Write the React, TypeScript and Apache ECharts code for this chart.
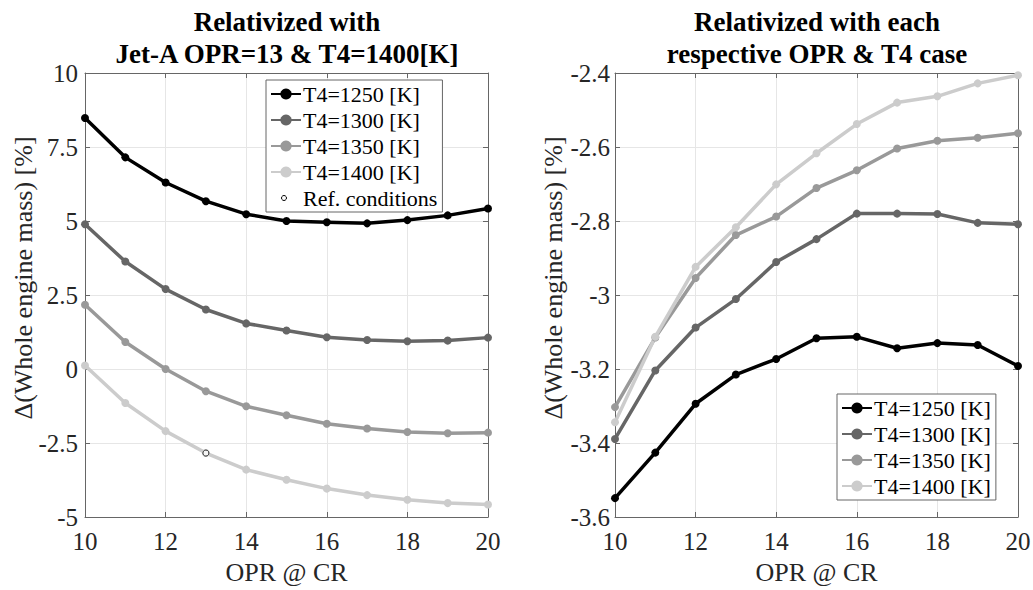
import React, { useEffect, useRef } from "react";
import * as echarts from "echarts";

const OPR = [10, 11, 12, 13, 14, 15, 16, 17, 18, 19, 20];
const SERIES_NAMES = ["T4=1250 [K]", "T4=1300 [K]", "T4=1350 [K]", "T4=1400 [K]"];
const REF_NAME = "Ref. conditions";

// Left panel: relativized with Jet-A OPR=13 & T4=1400 K
const left1250 = [8.48, 7.15, 6.3, 5.67, 5.23, 5.0, 4.96, 4.92, 5.03, 5.19, 5.42];
const left1300 = [4.89, 3.63, 2.7, 2.01, 1.54, 1.3, 1.07, 0.98, 0.94, 0.96, 1.06];
const left1350 = [2.17, 0.91, 0.0, -0.75, -1.26, -1.56, -1.85, -2.01, -2.13, -2.17, -2.15];
const left1400 = [0.12, -1.15, -2.1, -2.84, -3.4, -3.74, -4.04, -4.26, -4.42, -4.53, -4.58];
const refPoint = [13, -2.84];

// Right panel: relativized with each respective case
const right1250 = [-3.549, -3.426, -3.294, -3.215, -3.173, -3.117, -3.113, -3.144, -3.13, -3.135, -3.192];
const right1300 = [-3.389, -3.204, -3.088, -3.011, -2.911, -2.849, -2.78, -2.78, -2.781, -2.805, -2.809];
const right1350 = [-3.303, -3.115, -2.954, -2.838, -2.788, -2.711, -2.663, -2.604, -2.583, -2.575, -2.563];
const right1400 = [-3.344, -3.113, -2.924, -2.817, -2.701, -2.617, -2.538, -2.48, -2.463, -2.428, -2.406];

// Tick labels
const xTickLabels = [10, 12, 14, 16, 18, 20];
const leftYTickLabels = [-5, -2.5, 0, 2.5, 5, 7.5, 10];
const rightYTickLabels = [-3.6, -3.4, -3.2, -3, -2.8, -2.6, -2.4];

const COLORS = ["#000000", "#666666", "#999999", "#cccccc"];
const FONT = "Liberation Serif";
const Y_NAME = "Δ(Whole engine mass) [%]";

const leftYTicks = { min: -5, max: 10, interval: 2.5 };
const rightYTicks = { min: -3.6, max: -2.4, interval: 0.2 };
const xTicks = { min: 10, max: 20, interval: 2 };

export default function App() {
  const ref = useRef<HTMLDivElement>(null);

  useEffect(() => {
    if (!ref.current) return;
    const chart = echarts.init(ref.current, null, { renderer: "svg" });

    const grids = [
      { left: 85, top: 73, width: 403, height: 448 },
      { left: 615, top: 73, width: 403, height: 448 },
    ];

    const axisLineStyle = { color: "#666666", width: 1 };

    const xAxes: any[] = [];
    const yAxes: any[] = [];
    [0, 1].forEach((g) => {
      xAxes.push({
        type: "value",
        gridIndex: g,
        position: "bottom",
        ...xTicks,
        name: "OPR @ CR",
        nameLocation: "middle",
        nameGap: 42,
        nameTextStyle: { fontFamily: FONT, fontSize: 26, color: "#262626" },
        axisLine: { show: true, onZero: false, lineStyle: axisLineStyle },
        axisTick: { show: true, inside: true, length: 5, lineStyle: axisLineStyle },
        axisLabel: { show: false },
        splitLine: { show: true, lineStyle: { color: "#e6e6e6", width: 1 } },
      });
      xAxes.push({
        type: "value",
        gridIndex: g,
        position: "top",
        ...xTicks,
        axisLine: { show: true, onZero: false, lineStyle: axisLineStyle },
        axisTick: { show: true, inside: true, length: 5, lineStyle: axisLineStyle },
        axisLabel: { show: false },
        splitLine: { show: false },
      });
      const yt = g === 0 ? leftYTicks : rightYTicks;
      yAxes.push({
        type: "value",
        gridIndex: g,
        position: "left",
        ...yt,
        axisLine: { show: true, onZero: false, lineStyle: axisLineStyle },
        axisTick: { show: true, inside: true, length: 5, lineStyle: axisLineStyle },
        axisLabel: { show: false },
        splitLine: { show: true, lineStyle: { color: "#e6e6e6", width: 1 } },
      });
      yAxes.push({
        type: "value",
        gridIndex: g,
        position: "right",
        ...yt,
        axisLine: { show: true, onZero: false, lineStyle: axisLineStyle },
        axisTick: { show: true, inside: true, length: 5, lineStyle: axisLineStyle },
        axisLabel: { show: false },
        splitLine: { show: false },
      });
    });

    const mk = (name: string, data: number[], color: string, xi: number, yi: number) => ({
      type: "line",
      name,
      xAxisIndex: xi,
      yAxisIndex: yi,
      data: OPR.map((x, i) => [x, data[i]]),
      symbol: "circle",
      symbolSize: 8,
      showSymbol: true,
      lineStyle: { color, width: 3.5 },
      itemStyle: { color },
      z: 3,
    });

    const leftData = [left1250, left1300, left1350, left1400];
    const rightData = [right1250, right1300, right1350, right1400];

    const series: any[] = [];
    leftData.forEach((d, i) => series.push(mk(SERIES_NAMES[i], d, COLORS[i], 0, 0)));
    series.push({
      type: "scatter",
      name: REF_NAME,
      xAxisIndex: 0,
      yAxisIndex: 0,
      data: [refPoint],
      symbol: "circle",
      symbolSize: 6,
      itemStyle: { color: "#ffffff", borderColor: "#000000", borderWidth: 1 },
      z: 5,
    });
    rightData.forEach((d, i) => series.push(mk(SERIES_NAMES[i], d, COLORS[i], 2, 2)));

    const legendBase = {
      orient: "vertical",
      backgroundColor: "#ffffff",
      borderColor: "#666666",
      borderWidth: 1,
      borderRadius: 0,
      padding: [3, 5, 3, 4],
      itemGap: 4,
      itemWidth: 30,
      itemHeight: 14,
      textStyle: { fontFamily: FONT, fontSize: 22, color: "#000000", lineHeight: 21, padding: [0, 0, 0, -3] },
      selectedMode: false,
    };

    chart.setOption({
      animation: false,
      backgroundColor: "#ffffff",
      textStyle: { fontFamily: FONT },
      grid: grids,
      xAxis: xAxes,
      yAxis: yAxes,
      series,
      legend: [
        {
          ...legendBase,
          left: 266,
          top: 80,
          data: [
            ...SERIES_NAMES,
            { name: REF_NAME, icon: "circle", itemStyle: { color: "rgba(0,0,0,0)", borderWidth: 0 } },
          ],
        },
        { ...legendBase, left: 837, top: 394, data: SERIES_NAMES },
      ],
    });

    const txt = (text: string, x: number, y: number, extra: any = {}, rotation = 0) => ({
      type: "text",
      x,
      y,
      rotation,
      silent: true,
      style: {
        text,
        fontFamily: FONT,
        fontSize: 25,
        fill: "#262626",
        textAlign: "center",
        textVerticalAlign: "middle",
        ...extra,
      },
    });

    const finders = [
      { xAxisIndex: 0, yAxisIndex: 0 },
      { xAxisIndex: 2, yAxisIndex: 2 },
    ];
    const yTickSets = [leftYTickLabels, rightYTickLabels];
    const yMins = [leftYTicks.min, rightYTicks.min];
    const labelGaps = [7, 5];
    const nameX = [23, 553];
    const titleX = [287, 817];
    const titles = [
      ["Relativized with", "Jet-A OPR=13 & T4=1400[K]"],
      ["Relativized with each", "respective OPR & T4 case"],
    ];

    const graphics: any[] = [];
    [0, 1].forEach((g) => {
      const f = finders[g];
      let bottomY = 0;
      let leftX = 0;
      let topY = 0;
      xTickLabels.forEach((v) => {
        const p = chart.convertToPixel(f as any, [v, yMins[g]]) as number[];
        bottomY = p[1];
        graphics.push(txt(String(v), p[0], p[1] + 24));
      });
      yTickSets[g].forEach((v) => {
        const p = chart.convertToPixel(f as any, [xTicks.min, v]) as number[];
        leftX = p[0];
        graphics.push(txt(String(v), p[0] - labelGaps[g], p[1], { textAlign: "right" }));
      });
      const top = chart.convertToPixel(f as any, [xTicks.min, yTickSets[g][yTickSets[g].length - 1]]) as number[];
      topY = top[1];
      graphics.push(txt(Y_NAME, nameX[g], (topY + bottomY) / 2 - 17, { fontSize: 26 }, Math.PI / 2));
      graphics.push(
        txt(titles[g][0], titleX[g], 22, { fontWeight: "bold", fontSize: 27, fill: "#000" }),
        txt(titles[g][1], titleX[g], 54, { fontWeight: "bold", fontSize: 27, fill: "#000" })
      );
      void leftX;
    });

    // small marker for the "Ref. conditions" legend entry
    graphics.push({
      type: "circle",
      x: 284,
      y: 198,
      shape: { r: 2.5 },
      style: { fill: "#ffffff", stroke: "#000000", lineWidth: 1 },
      z: 100,
    });

    chart.setOption({ graphic: graphics });

    return () => chart.dispose();
  }, []);

  return <div ref={ref} style={{ width: 1033, height: 590, position: "absolute", left: 0, top: 0 }} />;
}
